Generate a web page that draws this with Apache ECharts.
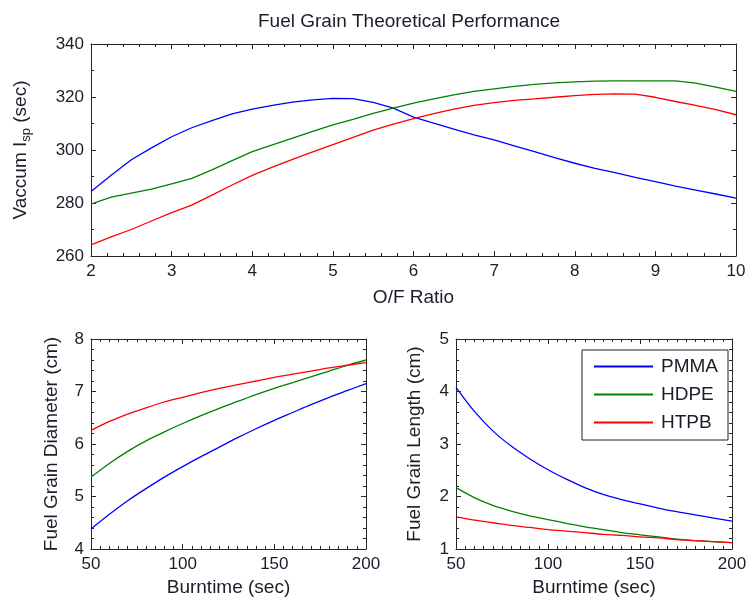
<!DOCTYPE html>
<html>
<head>
<meta charset="utf-8">
<script src="https://cdn.jsdelivr.net/npm/echarts@6/dist/echarts.min.js"></script>
<style>
  html, body { margin: 0; padding: 0; background: #fff; }
  #chart { width: 747px; height: 601px; }
</style>
</head>
<body>
<div id="chart"></div>
<script>
// ---------------- data ----------------
const seriesNames = ['PMMA', 'HDPE', 'HTPB'];

// Top plot: Vacuum Isp vs O/F ratio
const ofRatio = [2, 2.25, 2.5, 2.75, 3, 3.25, 3.5, 3.75, 4, 4.25, 4.5, 4.75, 5, 5.25, 5.5, 5.75,
                 6, 6.25, 6.5, 6.75, 7, 7.25, 7.5, 7.75, 8, 8.25, 8.5, 8.75, 9, 9.25, 9.5, 9.75, 10];
const ispPMMA = [284.3, 290.5, 296.3, 300.8, 305.0, 308.4, 311.1, 313.6, 315.4, 316.8, 318.1, 318.9, 319.5, 319.4, 318.0, 315.8,
                 312.4, 310.1, 307.9, 305.7, 303.8, 301.6, 299.4, 297.1, 295.0, 293.1, 291.5, 289.7, 288.1, 286.4, 284.9, 283.4, 281.8];
const ispHDPE = [279.6, 282.2, 283.7, 285.2, 287.2, 289.3, 292.5, 296.0, 299.4, 301.9, 304.5, 307.0, 309.5, 311.6, 313.8, 315.8,
                 317.7, 319.3, 320.8, 322.1, 323.1, 324.0, 324.8, 325.3, 325.7, 326.0, 326.1, 326.1, 326.1, 326.1, 325.2, 323.7, 322.1];
const ispHTPB = [264.2, 267.2, 270.0, 273.2, 276.4, 279.2, 283.0, 286.8, 290.4, 293.5, 296.5, 299.3, 302.0, 304.8, 307.5, 309.8,
                 311.8, 313.7, 315.4, 316.8, 317.9, 318.7, 319.3, 319.9, 320.5, 321.0, 321.2, 321.1, 319.9, 318.3, 316.8, 315.2, 313.3];

// Bottom plots: vs burntime
const burntime = [50, 60, 70, 80, 90, 100, 110, 120, 130, 140, 150, 160, 170, 180, 190, 200];
const diaPMMA = [4.38, 4.66, 4.92, 5.15, 5.37, 5.57, 5.76, 5.94, 6.12, 6.29, 6.45, 6.60, 6.75, 6.89, 7.02, 7.15];
const diaHDPE = [5.37, 5.63, 5.86, 6.06, 6.23, 6.39, 6.54, 6.68, 6.81, 6.94, 7.06, 7.17, 7.28, 7.39, 7.50, 7.60];
const diaHTPB = [6.26, 6.43, 6.57, 6.69, 6.80, 6.89, 6.98, 7.06, 7.13, 7.20, 7.27, 7.33, 7.39, 7.45, 7.50, 7.55];
const lenPMMA = [4.08, 3.62, 3.25, 2.96, 2.72, 2.51, 2.33, 2.17, 2.04, 1.94, 1.86, 1.78, 1.71, 1.65, 1.59, 1.53];
const lenHDPE = [2.17, 1.98, 1.83, 1.72, 1.63, 1.56, 1.49, 1.42, 1.37, 1.31, 1.27, 1.23, 1.19, 1.16, 1.14, 1.12];
const lenHTPB = [1.61, 1.55, 1.50, 1.45, 1.41, 1.37, 1.34, 1.31, 1.28, 1.26, 1.23, 1.21, 1.18, 1.16, 1.14, 1.12];

// Tick labels
const ofTicks = [2, 3, 4, 5, 6, 7, 8, 9, 10];
const ispTicks = [260, 280, 300, 320, 340];
const burnTicks = [50, 100, 150, 200];
const diaTicks = [4, 5, 6, 7, 8];
const lenTicks = [1, 2, 3, 4, 5];

// Text
const titleText = 'Fuel Grain Theoretical Performance';
const ofName = 'O/F Ratio';
const burnName = 'Burntime (sec)';
const diaName = 'Fuel Grain Diameter (cm)';
const lenName = 'Fuel Grain Length (cm)';

// ---------------- styling ----------------
const FONT = "'Liberation Sans', Arial, Helvetica, sans-serif";
const TXT = '#1c1c2a';
const AX = '#262626';
const COLORS = ['#0000ff', '#008000', '#ff0000'];

function rng(t) { return { min: t[0], max: t[t.length - 1], interval: t[1] - t[0] }; }

function axisPair(kind, gridIndex, ticks, minorSplit, name, nameGap, nameStyle) {
  const r = rng(ticks);
  const common = {
    type: 'value', gridIndex: gridIndex, min: r.min, max: r.max, interval: r.interval,
    splitLine: { show: false },
    axisLine: { show: true, onZero: false, lineStyle: { color: AX, width: 1 } },
    axisTick: { show: true, inside: true, length: 5, lineStyle: { color: AX } },
    minorTick: { show: true, splitNumber: minorSplit, length: 3, lineStyle: { color: AX } },
    minorSplitLine: { show: false }
  };
  const main = Object.assign({}, common, {
    position: kind === 'x' ? 'bottom' : 'left',
    name: name, nameLocation: 'middle', nameGap: nameGap,
    nameTextStyle: Object.assign({ fontFamily: FONT, fontSize: 19, color: TXT }, nameStyle || {}),
    axisLabel: { show: true, fontFamily: FONT, fontSize: 17, color: TXT, margin: 7 }
  });
  const mirror = Object.assign({}, common, {
    position: kind === 'x' ? 'top' : 'right',
    axisLabel: { show: false }
  });
  return [main, mirror];
}

const grids = [
  { left: 91, top: 44, width: 645, height: 212 },
  { left: 91, top: 339, width: 275, height: 210 },
  { left: 456, top: 339, width: 276, height: 210 }
];
grids.forEach(g => { g.containLabel = false; g.outerBoundsMode = 'none'; });

const xAxes = [].concat(
  axisPair('x', 0, ofTicks, 5, ofName, 32),
  axisPair('x', 1, burnTicks, 10, burnName, 29),
  axisPair('x', 2, burnTicks, 10, burnName, 29)
);
const ispRich = {
  rich: {
    a: { fontFamily: FONT, fontSize: 19, color: TXT },
    b: { fontFamily: FONT, fontSize: 13, color: TXT, padding: [12, 0, 0, 0] }
  }
};
const yAxes = [].concat(
  axisPair('y', 0, ispTicks, 2, '{a|Vaccum I}{b|sp}{a| (sec)}', 58, ispRich),
  axisPair('y', 1, diaTicks, 5, diaName, 30),
  axisPair('y', 2, lenTicks, 5, lenName, 32)
);

function pairs(xs, ys) { return xs.map((x, i) => [x, ys[i]]); }

const plotData = [
  { grid: 0, x: ofRatio, ys: [ispPMMA, ispHDPE, ispHTPB] },
  { grid: 1, x: burntime, ys: [diaPMMA, diaHDPE, diaHTPB] },
  { grid: 2, x: burntime, ys: [lenPMMA, lenHDPE, lenHTPB] }
];

const series = [];
plotData.forEach(p => {
  p.ys.forEach((ys, k) => {
    series.push({
      type: 'line', name: seriesNames[k],
      xAxisIndex: p.grid * 2, yAxisIndex: p.grid * 2,
      data: pairs(p.x, ys),
      showSymbol: false, symbol: 'none',
      smooth: p.grid === 0 ? false : 0.3,
      clip: true,
      lineStyle: { color: COLORS[k], width: 1.3 },
      itemStyle: { color: COLORS[k] },
      emphasis: { disabled: true }
    });
  });
});

const option = {
  animation: false,
  backgroundColor: '#ffffff',
  title: {
    text: titleText, left: 258, top: 12, padding: 0,
    textStyle: { fontFamily: FONT, fontSize: 19, fontWeight: 'normal', color: TXT }
  },
  legend: {
    data: seriesNames, orient: 'vertical', left: 582, top: 350,
    padding: [7, 10, 8, 12], itemGap: 9, itemWidth: 59, itemHeight: 2,
    icon: 'rect',
    borderColor: '#222', borderWidth: 1, backgroundColor: '#ffffff',
    selectedMode: false,
    textStyle: { fontFamily: FONT, fontSize: 19, color: TXT, padding: [0, 0, 0, 3] }
  },
  grid: grids,
  xAxis: xAxes,
  yAxis: yAxes,
  series: series
};

const chart = echarts.init(document.getElementById('chart'), null, { renderer: 'canvas' });
chart.setOption(option);
</script>
</body>
</html>
